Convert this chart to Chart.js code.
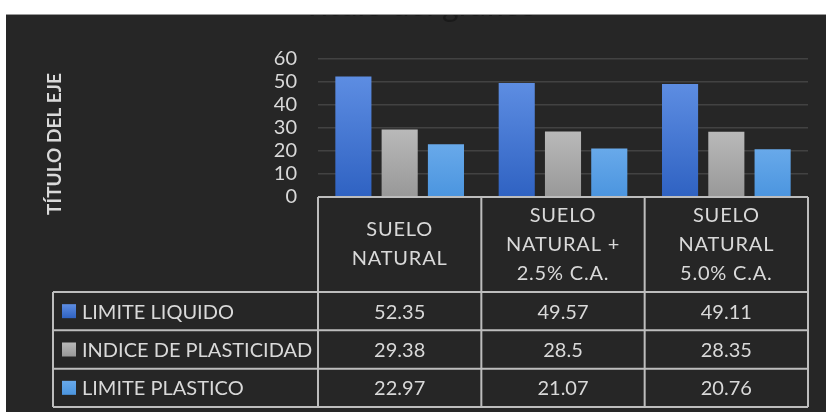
<!DOCTYPE html>
<html>
<head>
<meta charset="utf-8">
<script src="https://cdn.jsdelivr.net/npm/chart.js@4.4.1/dist/chart.umd.min.js"></script>
<style>
  html, body { margin: 0; padding: 0; background: #fff; }
  #wrap { width: 826px; height: 412px; }
</style>
</head>
<body>
<div id="wrap"><canvas id="chart" width="826" height="412"></canvas></div>
<script>
// categories (header cells of the data table)
const categories = [
  ['SUELO', 'NATURAL'],
  ['SUELO', 'NATURAL +', '2.5% C.A.'],
  ['SUELO', 'NATURAL', '5.0% C.A.']
];
const seriesNames = ['LIMITE LIQUIDO', 'INDICE DE PLASTICIDAD', 'LIMITE PLASTICO'];
const limiteLiquido = [52.35, 49.57, 49.11];
const indicePlasticidad = [29.38, 28.5, 28.35];
const limitePlastico = [22.97, 21.07, 20.76];
const yMin = 0, yMax = 60, yStep = 10;

const chartTitle = 'Título del gráfico';
const axisTitle = 'TÍTULO DEL EJE';

const FONT = 'Lato, "Open Sans", sans-serif';
const TEXT = '#d9d9d9';
const LINE = '#bdbdbd';

// top / bottom colours for each series
const seriesColors = [
  ['#5d8de2', '#2f62c2'],
  ['#b9b9b9', '#989898'],
  ['#68a9ea', '#4b95df']
];

function barFill(i) {
  return function (ctx) {
    const chart = ctx.chart;
    const area = chart.chartArea;
    if (!area || !chart.scales.y || ctx.raw == null) return seriesColors[i][0];
    const top = chart.scales.y.getPixelForValue(ctx.raw);
    const g = chart.ctx.createLinearGradient(0, top, 0, area.bottom);
    g.addColorStop(0, seriesColors[i][0]);
    g.addColorStop(1, seriesColors[i][1]);
    return g;
  };
}

const seriesValues = [limiteLiquido, indicePlasticidad, limitePlastico];

// panel, cut-off title and vertical axis title
const backdrop = {
  id: 'backdrop',
  beforeDraw(chart) {
    const c = chart.ctx;
    c.save();
    c.fillStyle = '#ffffff';
    c.fillRect(0, 0, chart.width, chart.height);
    c.fillStyle = '#262626';
    c.fillRect(6, 14, chart.width - 6, chart.height - 14);
    c.strokeStyle = '#9a9a9a';
    c.lineWidth = 1;
    c.beginPath();
    c.moveTo(6, 14.5); c.lineTo(chart.width, 14.5);
    c.stroke();

    // chart title sits mostly above the panel and is clipped away
    c.save();
    c.beginPath();
    c.rect(6, 15, chart.width, chart.height);
    c.clip();
    c.fillStyle = '#1a1a1a';
    c.font = '32px ' + FONT;
    c.textAlign = 'center';
    c.textBaseline = 'alphabetic';
    c.fillText(chartTitle, 420, 16);
    c.restore();

    c.translate(55, 144);
    c.rotate(-Math.PI / 2);
    c.fillStyle = TEXT;
    c.font = 'bold 19px ' + FONT;
    c.textAlign = 'center';
    c.textBaseline = 'middle';
    c.fillText(axisTitle, 0, 0);
    c.restore();
  }
};

// data table under the plot, columns follow the category scale
const dataTable = {
  id: 'dataTable',
  afterDraw(chart) {
    const c = chart.ctx;
    const area = chart.chartArea;
    const x = chart.scales.x;
    const colW = (area.right - area.left) / categories.length;
    const top = area.bottom;
    const headBottom = top + 95;
    const tableBottom = 407;
    const rowH = (tableBottom - headBottom) / seriesNames.length;
    const leftX = 53;

    c.save();
    c.strokeStyle = LINE;
    c.lineWidth = 2;
    c.beginPath();
    // header box
    c.moveTo(area.left, top); c.lineTo(area.right, top);
    for (let i = 0; i <= categories.length; i++) {
      const lx = area.left + i * colW;
      c.moveTo(lx, top); c.lineTo(lx, tableBottom);
    }
    // row lines
    for (let r = 0; r <= seriesNames.length; r++) {
      const ly = headBottom + r * rowH;
      c.moveTo(leftX, ly); c.lineTo(area.right, ly);
    }
    c.moveTo(leftX, headBottom); c.lineTo(leftX, tableBottom);
    c.stroke();

    c.fillStyle = TEXT;
    c.font = '20px ' + FONT;
    c.textAlign = 'center';
    c.textBaseline = 'middle';
    const lineH = 29;
    c.letterSpacing = '0.8px';
    categories.forEach((lines, i) => {
      const cx = x.getPixelForValue(i);
      const cy = (top + headBottom) / 2;
      const y0 = cy - (lines.length - 1) * lineH / 2;
      lines.forEach((t, k) => c.fillText(t, cx, y0 + k * lineH));
    });
    c.letterSpacing = '0px';

    seriesNames.forEach((name, r) => {
      const cy = headBottom + r * rowH + rowH / 2;
      const g = c.createLinearGradient(0, cy - 7, 0, cy + 7);
      g.addColorStop(0, seriesColors[r][0]);
      g.addColorStop(1, seriesColors[r][1]);
      c.fillStyle = g;
      c.fillRect(62, cy - 7, 14, 14);
      c.fillStyle = TEXT;
      c.textAlign = 'left';
      c.fillText(name, 82, cy + 1);
      c.textAlign = 'center';
      seriesValues[r].forEach((v, i) => {
        c.fillText(String(v), x.getPixelForValue(i), cy + 1);
      });
    });
    c.restore();
  }
};

new Chart(document.getElementById('chart'), {
  type: 'bar',
  data: {
    labels: categories.map(l => l.join(' ')),
    datasets: seriesNames.map((name, i) => ({
      label: name,
      data: seriesValues[i],
      backgroundColor: barFill(i),
      borderWidth: 0,
      categoryPercentage: 0.85,
      barPercentage: 0.78
    }))
  },
  options: {
    responsive: false,
    animation: false,
    layout: { padding: { top: 59, left: 0, right: 18, bottom: 0 } },
    plugins: {
      legend: { display: false },
      title: { display: false },
      tooltip: { enabled: false }
    },
    scales: {
      x: {
        grid: { display: false },
        border: { display: false },
        ticks: { display: false },
        afterFit(scale) { scale.height = 215; }
      },
      y: {
        min: yMin,
        max: yMax,
        border: { display: false },
        grid: { color: '#424242', lineWidth: 1.5, drawTicks: false },
        ticks: {
          stepSize: yStep,
          autoSkip: false,
          padding: 21,
          color: TEXT,
          font: { family: FONT, size: 20 }
        },
        afterFit(scale) { scale.width = 318; }
      }
    }
  },
  plugins: [backdrop, dataTable]
});
</script>
</body>
</html>
